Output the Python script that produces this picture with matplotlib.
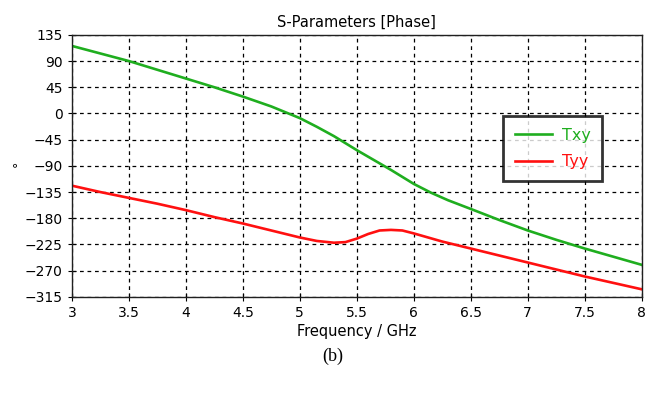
import numpy as np
import matplotlib.pyplot as plt

# values
freq_xy = [3.0, 3.25, 3.5, 3.75, 4.0, 4.25, 4.5, 4.75, 5.0, 5.15, 5.3, 5.4, 5.5, 5.65, 5.8, 5.9,
           6.0, 6.15, 6.3, 6.5, 6.75, 7.0, 7.25, 7.5, 7.75, 8.0]
txy = [116, 103, 90, 75, 60, 45, 29, 12, -8, -23, -39, -51, -63, -80, -97, -109,
       -121, -136, -149, -164, -183, -201, -217, -232, -246, -260]

freq_yy = [3.0, 3.25, 3.5, 3.75, 4.0, 4.25, 4.5, 4.75, 5.0, 5.15, 5.3, 5.4, 5.5, 5.6,
           5.7, 5.8, 5.9, 6.0, 6.25, 6.5, 6.75, 7.0, 7.25, 7.5, 7.75, 8.0]
tyy = [-124, -135, -145, -155, -166, -178, -189, -201, -213, -219, -222, -221, -215, -207,
       -201, -200, -201, -206, -220, -232, -244, -256, -268, -280, -291, -302]

xticks = [3, 3.5, 4, 4.5, 5, 5.5, 6, 6.5, 7, 7.5, 8]
xticklabels = ['3', '3.5', '4', '4.5', '5', '5.5', '6', '6.5', '7', '7.5', '8']
yticks = [135, 90, 45, 0, -45, -90, -135, -180, -225, -270, -315]

green = '#1fae1f'
red = '#ff1010'

fig = plt.figure(figsize=(6.65, 4.05), dpi=100)
ax = fig.add_axes([0.108, 0.267, 0.857, 0.647])

ax.plot(freq_xy, txy, color=green, lw=1.9, label='Txy')
ax.plot(freq_yy, tyy, color=red, lw=1.9, label='Tyy')

ax.set_xlim(3, 8)
ax.set_ylim(-315, 135)
ax.set_xticks(xticks)
ax.set_xticklabels(xticklabels)
ax.set_yticks(yticks)
ax.tick_params(direction='inout', length=6, width=0.8, labelsize=10, colors='black')
ax.grid(True, color='black', linestyle=(0, (3, 3)), linewidth=0.9)
for s in ax.spines.values():
    s.set_color('#202020')
    s.set_linewidth(1.0)

ax.set_title('S-Parameters [Phase]', fontsize=10.5, pad=6)
ax.set_xlabel('Frequency / GHz', fontsize=10.5, labelpad=3)
fig.text(0.027, 0.595, '°', fontsize=9, ha='center', va='center', rotation=90)

leg = ax.legend(loc='upper left', bbox_to_anchor=(0.757, 0.69), fontsize=11.5,
                frameon=True, fancybox=False, handlelength=2.3, handletextpad=0.6,
                borderpad=0.75, labelspacing=0.7, borderaxespad=0)
leg.get_frame().set_edgecolor('black')
leg.get_frame().set_linewidth(2)
for t, c in zip(leg.get_texts(), [green, red]):
    t.set_color(c)

fig.text(0.5, 0.12, '(b)', fontsize=13, family='Liberation Serif', ha='center', va='center')

fig.savefig('out.png', dpi=100)
